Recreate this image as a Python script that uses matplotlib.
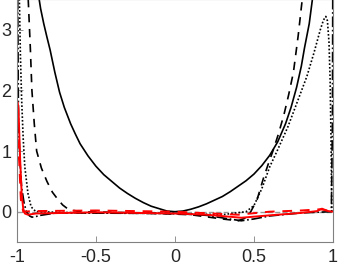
import numpy as np
import matplotlib.pyplot as plt

# krzywe
x_solid = [-0.865, -0.85, -0.83, -0.81, -0.79, -0.76, -0.73, -0.7, -0.66, -0.63, -0.6,
           -0.55, -0.5, -0.45, -0.4, -0.35, -0.3, -0.25, -0.2, -0.15, -0.1, -0.05, 0.0,
           0.05, 0.1, 0.15, 0.2, 0.25, 0.3, 0.35, 0.4, 0.45, 0.5, 0.55, 0.6, 0.65,
           0.7, 0.735, 0.77, 0.8, 0.82, 0.85, 0.875]
y_solid = [3.6, 3.35, 3.1, 2.88, 2.67, 2.3, 1.97, 1.72, 1.45, 1.28, 1.12,
           0.92, 0.75, 0.61, 0.5, 0.39, 0.3, 0.22, 0.15, 0.09, 0.05, 0.01, 0.0,
           0.01, 0.04, 0.08, 0.13, 0.19, 0.25, 0.33, 0.42, 0.51, 0.62, 0.76, 0.93, 1.15,
           1.45, 1.72, 2.05, 2.4, 2.7, 3.1, 3.6]

x_dash = [-0.93, -0.915, -0.905, -0.89, -0.875, -0.845, -0.81, -0.775, -0.74, -0.71,
          -0.68, -0.64, -0.6, -0.4, -0.1, 0.1, 0.3, 0.4, 0.45, 0.48, 0.52, 0.56,
          0.59, 0.62, 0.655, 0.69, 0.72, 0.75, 0.78, 0.81]
y_dash = [3.6, 2.7, 2.0, 1.45, 1.0, 0.72, 0.5, 0.32, 0.2, 0.11,
          0.05, 0.02, 0.0, -0.01, -0.03, -0.05, -0.12, -0.15, -0.1, 0.0, 0.2, 0.55,
          0.78, 1.0, 1.28, 1.6, 1.93, 2.3, 2.9, 3.6]

x_dot = [-0.985, -0.978, -0.97, -0.96, -0.95, -0.93, -0.91, -0.88, -0.6, 0.0, 0.3,
         0.45, 0.5, 0.55, 0.6, 0.65, 0.715, 0.77, 0.835, 0.88, 0.92, 0.94, 0.955,
         0.965, 0.975, 0.982, 0.988, 0.993]
y_dot = [3.6, 2.6, 1.85, 1.2, 0.74, 0.3, 0.08, 0.0, -0.02, -0.03, -0.05,
         0.0, 0.1, 0.38, 0.74, 1.02, 1.4, 1.78, 2.23, 2.62, 3.0, 3.16, 3.22,
         3.15, 2.8, 2.2, 1.2, 0.0]

x_dashdot = [-0.995, -0.99, -0.98, -0.97, -0.955, -0.94, -0.92, -0.905, -0.88, -0.85,
             -0.75, 0.0, 0.2, 0.32, 0.42, 0.5, 0.6, 0.8, 0.99, 0.997, 0.999]
y_dashdot = [3.6, 1.5, 0.8, 0.4, 0.15, 0.0, -0.07, -0.09, -0.08, -0.06,
             -0.02, -0.03, -0.06, -0.11, -0.15, -0.12, -0.07, -0.02, 0.0, 1.5, 3.6]

x_red = [-0.995, -0.99, -0.98, -0.97, -0.96, -0.95, -0.93, -0.88, -0.5, 0.0, 0.2,
         0.42, 0.6, 0.8, 0.9, 0.93, 0.95, 0.97, 1.0]
y_red = [1.8, 1.7, 0.9, 0.3, 0.05, -0.03, -0.05, -0.03, -0.01, -0.03, -0.05,
         -0.1, -0.06, -0.02, 0.01, 0.05, 0.03, 0.01, 0.0]

x_red_dash = [-0.995, -0.985, -0.975, -0.96, -0.9, -0.5, 0.0, 0.4, 0.6, 0.8, 0.92, 1.0]
y_red_dash = [1.2, 0.8, 0.2, 0.0, 0.01, 0.02, 0.0, -0.05, 0.0, 0.02, 0.04, 0.0]

plt.rcParams['font.family'] = ['Liberation Sans', 'DejaVu Sans']

fig = plt.figure(figsize=(3.38, 2.68), dpi=100)
ax = fig.add_axes([0.050, 0.097, 0.935, 0.905])

ax.axhline(0, color='0.6', lw=1.0, ls='--')
ax.plot(x_solid, y_solid, color='k', lw=1.2)
ax.plot(x_dash, y_dash, color='k', lw=1.2, ls=(0, (5, 4)))
ax.plot(x_dot, y_dot, color='k', lw=1.2, ls=(0, (1, 1.2)))
ax.plot(x_dashdot, y_dashdot, color='k', lw=1.2, ls='-.')
ax.plot(x_red, y_red, color='red', lw=1.4)
ax.plot(x_red_dash, y_red_dash, color='red', lw=1.4, ls=(0, (5, 4)))

ax.set_xlim(-1, 1)
ax.set_ylim(-0.5, 3.5)
ax.set_xticks([-1, -0.5, 0, 0.5, 1])
ax.set_xticklabels(['-1', '-0.5', '0', '0.5', '1'])
ax.set_yticks([0, 1, 2, 3])
ax.tick_params(direction='in', length=4, width=0.6, colors='0.5',
               labelcolor='#262626', labelsize=13)
ax.tick_params(axis='x', pad=5)
ax.tick_params(axis='y', pad=4)
for s in ax.spines.values():
    s.set_color('0.5')
    s.set_linewidth(0.8)

fig.savefig('out.png', dpi=100)
